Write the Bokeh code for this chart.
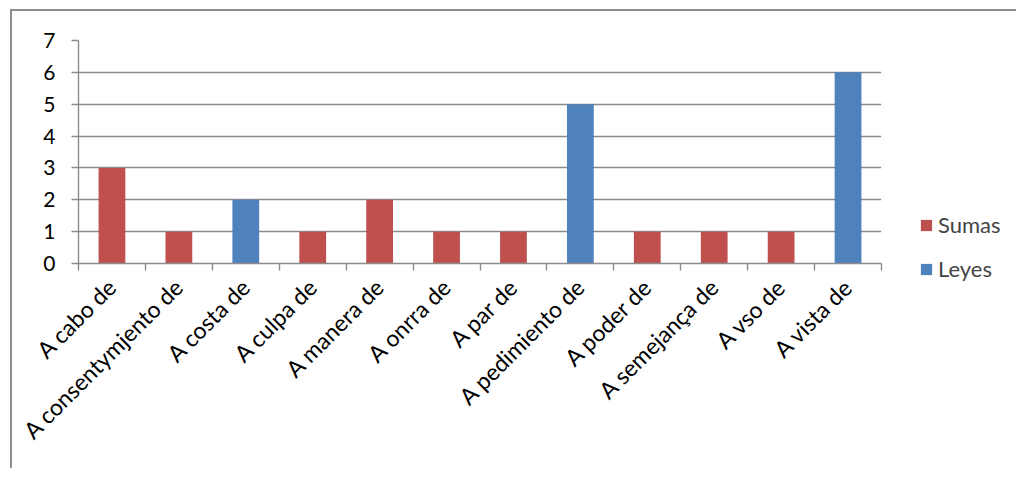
from bokeh.plotting import figure
from bokeh.models import FixedTicker, Legend, LegendItem, ColumnDataSource, Range1d
from bokeh.embed import file_html
from bokeh.resources import INLINE
import math

categories = ["A cabo de", "A consentymjento de", "A costa de", "A culpa de",
              "A manera de", "A onrra de", "A par de", "A pedimiento de",
              "A poder de", "A semejança de", "A vso de", "A vista de"]
sumas = [3, 1, 0, 1, 2, 1, 1, 0, 1, 1, 1, 0]
leyes = [0, 0, 2, 0, 0, 0, 0, 5, 0, 0, 0, 6]
y_ticks = [0, 1, 2, 3, 4, 5, 6, 7]

RED = "#C0504D"
BLUE = "#4F81BD"
GRID = "#8c8c8c"
FONT = "Lato"

xs = [i + 0.5 for i in range(len(categories))]
stack_top = [s + l for s, l in zip(sumas, leyes)]
src = ColumnDataSource(dict(x=xs, sumas=sumas, leyes=leyes, top=stack_top))

p = figure(frame_width=803, frame_height=223, output_backend="svg", toolbar_location=None,
           x_range=Range1d(0, len(categories)), y_range=Range1d(0, 7),
           min_border_left=66, min_border_right=10, min_border_top=29, min_border_bottom=205)
p.margin = (9, 0, 0, 10)
p.styles = {"border-left": "2px solid #8e8e8e", "border-top": "2px solid #8e8e8e"}
p.outline_line_color = None
p.background_fill_color = "white"
p.border_fill_color = "white"

r_s = p.vbar(x="x", top="sumas", width=0.4, source=src, fill_color=RED, line_color=None)
r_l = p.vbar(x="x", bottom="sumas", top="top", width=0.4, source=src, fill_color=BLUE, line_color=None)

# grid
p.xgrid.visible = False
p.ygrid.ticker = FixedTicker(ticks=y_ticks)
p.ygrid.grid_line_color = GRID
p.ygrid.grid_line_width = 1.4

# y axis
p.yaxis.ticker = FixedTicker(ticks=y_ticks)
p.yaxis.axis_line_color = GRID
p.yaxis.axis_line_width = 1.4
p.yaxis.major_tick_line_color = GRID
p.yaxis.major_tick_line_width = 1.4
p.yaxis.major_tick_in = 0
p.yaxis.major_tick_out = 7
p.yaxis.minor_tick_line_color = None
p.yaxis.major_label_standoff = 16
p.yaxis.major_label_text_font = FONT
p.yaxis.major_label_text_font_size = "21px"
p.yaxis.major_label_text_color = "black"

# x axis
p.xaxis.ticker = FixedTicker(ticks=xs, minor_ticks=list(range(len(categories) + 1)))
p.xaxis.major_label_overrides = {x: c for x, c in zip(xs, categories)}
p.xaxis.axis_line_color = GRID
p.xaxis.axis_line_width = 1.4
p.xaxis.major_tick_line_color = None
p.xaxis.minor_tick_line_color = GRID
p.xaxis.minor_tick_line_width = 1.4
p.xaxis.minor_tick_in = 0
p.xaxis.minor_tick_out = 7
p.xaxis.major_label_orientation = math.pi / 4
p.xaxis.major_label_standoff = 12
p.xaxis.major_label_text_font = FONT
p.xaxis.major_label_text_font_size = "23px"
p.xaxis.major_label_text_color = "black"

legend = Legend(items=[LegendItem(label="Sumas", renderers=[r_s]),
                       LegendItem(label="Leyes", renderers=[r_l])],
                location=(38, -19), orientation="vertical")
legend.glyph_width = 14
legend.glyph_height = 14
legend.label_height = 20
legend.spacing = 17
legend.padding = 0
legend.margin = 0
legend.label_standoff = 5
legend.label_text_font = FONT
legend.label_text_font_size = "22px"
legend.border_line_color = None
legend.background_fill_alpha = 0
p.add_layout(legend, "right")

open("out.html", "w").write(file_html(p, INLINE))
